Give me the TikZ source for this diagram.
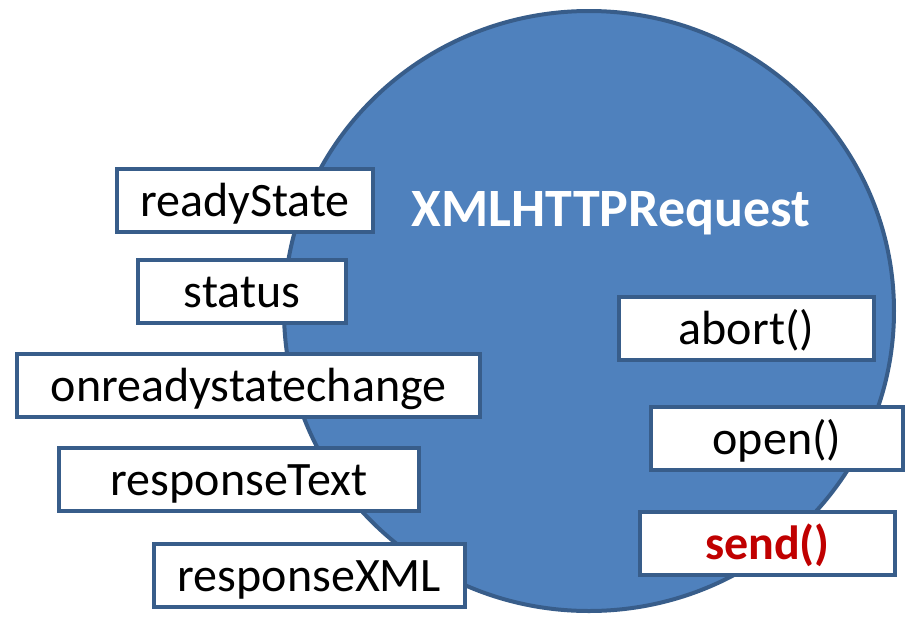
\documentclass[tikz,border=0pt]{standalone}
\usepackage{fontspec}
\setmainfont{Carlito}
\definecolor{ballblue}{HTML}{4F81BD}
\definecolor{ballline}{HTML}{385D8A}
\definecolor{sendred}{HTML}{C00000}
\begin{document}
\begin{tikzpicture}[x=0.5pt, y=-0.5pt,
    member/.style={draw=ballline, line width=2pt, fill=white, inner sep=0pt,
      minimum height=31.5pt, text height=16pt, text depth=0pt,
      font=\fontsize{24}{28}\selectfont}]
        \useasboundingbox (0,0) rectangle (907,617);
        % the object itself
        \draw[ballline, line width=2pt, fill=ballblue] (589,311) ellipse (152.5pt and 150pt);
        \node[anchor=base, text=white, font=\fontsize{27}{32}\selectfont\bfseries] (title) at (611,226) {XMLHTTPRequest};
        % properties on the left
        \node[member, minimum width=128pt]   (readystate) at (245,200.5) {readyState};
        \node[member, minimum width=104pt]   (status)     at (242,291)   {status};
        \node[member, minimum width=231.5pt] (onchange)   at (248.5,385) {onreadystatechange};
        \node[member, minimum width=180pt]   (resptext)   at (239,479.5) {responseText};
        \node[member, minimum width=155.5pt] (respxml)    at (309.5,575) {responseXML};
        % methods on the right
        \node[member, minimum width=127.5pt] (abort) at (746.5,328.5) {abort()};
        \node[member, minimum width=126pt]   (open)  at (777,438.5)   {open()};
        \node[member, minimum width=127.5pt, text=sendred, font=\fontsize{24}{28}\selectfont\bfseries] (send) at (767.5,543) {send()};
\end{tikzpicture}
\end{document}
